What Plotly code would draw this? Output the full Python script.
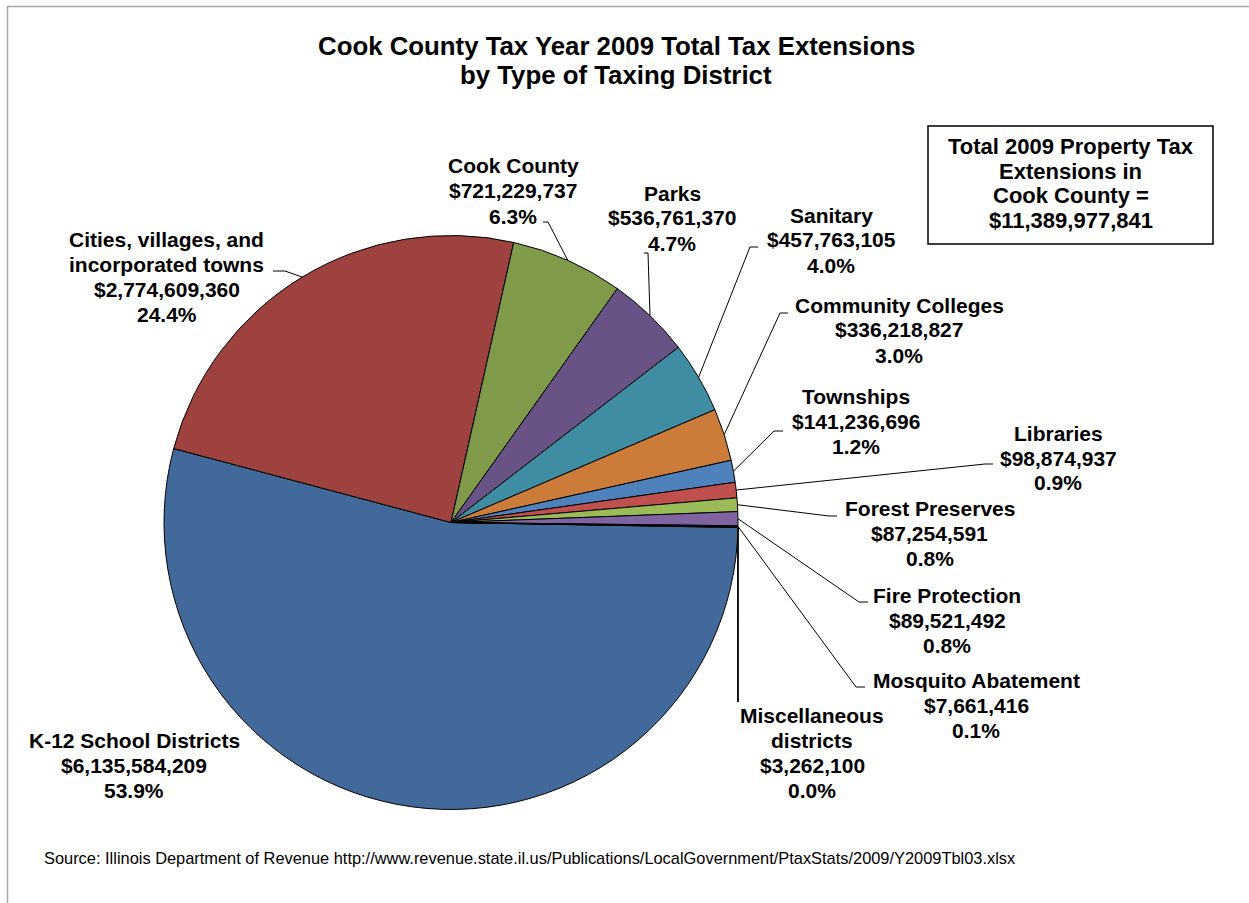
import math
import plotly.graph_objects as go

# ---- data -------------------------------------------------------------
districts = [
    "K-12 School Districts",
    "Cities, villages, and incorporated towns",
    "Cook County",
    "Parks",
    "Sanitary",
    "Community Colleges",
    "Townships",
    "Libraries",
    "Forest Preserves",
    "Fire Protection",
    "Mosquito Abatement",
    "Miscellaneous districts",
]
district_label_lines = [
    ["K-12 School Districts"],
    ["Cities, villages, and", "incorporated towns"],
    ["Cook County"],
    ["Parks"],
    ["Sanitary"],
    ["Community Colleges"],
    ["Townships"],
    ["Libraries"],
    ["Forest Preserves"],
    ["Fire Protection"],
    ["Mosquito Abatement"],
    ["Miscellaneous", "districts"],
]
extensions = [
    6135584209, 2774609360, 721229737, 536761370, 457763105, 336218827,
    141236696, 98874937, 87254591, 89521492, 7661416, 3262100,
]
total_extensions = 11389977841

title_lines = ["Cook County Tax Year 2009 Total Tax Extensions", "by Type of Taxing District"]
total_box_lines = ["Total 2009 Property Tax", "Extensions in", "Cook County ="]
source_note = ("Source: Illinois Department of Revenue "
               "http://www.revenue.state.il.us/Publications/LocalGovernment/PtaxStats/2009/Y2009Tbl03.xlsx")

# ---- styling / layout ---------------------------------------------------
W, H = 1249, 903
CX, CY, R = 451, 522.5, 287          # pie centre and radius (px)
START_ANGLE = 91                      # first slice start, degrees clockwise from 12 o'clock
LINE = 25                             # label line spacing (px)
FONT = "Liberation Sans, Arial, sans-serif"

slice_colors = [
    "#416A9B", "#9E423F", "#7F9A49", "#695285", "#3E8DA3", "#CB7B3A",
    "#4F81BD", "#C0504D", "#9BBB59", "#8064A2", "#4BACC6", "#F79646",
]

# label block centre (px), leader line: (text-side point, elbow point) or None, leader width
label_layout = {
    "K-12 School Districts": ((134, 765), None, 1),
    "Cities, villages, and incorporated towns": ((167, 276.5), ((273, 271), (285, 271)), 1),
    "Cook County": ((513, 191), ((543, 222), (548, 222)), 1),
    "Parks": ((672, 218), ((644, 253), (648, 253)), 1),
    "Sanitary": ((831, 240), ((758, 247), (750, 247)), 1),
    "Community Colleges": ((899, 330), ((788, 313), (780, 313)), 1),
    "Townships": ((856, 421), ((783, 431), (774, 431)), 1),
    "Libraries": ((1058, 458), ((993, 464), (985, 464)), 1),
    "Forest Preserves": ((930, 533), ((837, 516), (829, 516)), 1),
    "Fire Protection": ((947, 620), ((868, 602), (859, 602)), 1),
    "Mosquito Abatement": ((976, 705), ((865, 687), (856, 687)), 1),
    "Miscellaneous districts": ((812, 752.5), ((738, 702), (738, 702)), 1.8),
}


def px(x):
    return x / W


def py(y):
    return 1 - y / H


fig = go.Figure()
fig.add_trace(go.Pie(
    labels=districts,
    values=extensions,
    sort=False,
    direction="clockwise",
    rotation=START_ANGLE,
    marker=dict(colors=slice_colors, line=dict(color="black", width=1)),
    textinfo="none",
    hoverinfo="label+value+percent",
    showlegend=False,
    domain=dict(x=[px(CX - R), px(CX + R)], y=[py(CY + R), py(CY - R)]),
))

annotations = []
shapes = []

# data labels and leader lines
vsum = sum(extensions)
cum = 0
for name, lines, v in zip(districts, district_label_lines, extensions):
    mid = START_ANGLE + (cum + v / 2) / vsum * 360
    cum += v
    (lx, ly), leader, lw = label_layout[name]
    text_lines = lines + [f"${v:,}", f"{v / vsum * 100:.1f}%"]
    n = len(text_lines)
    for i, t in enumerate(text_lines):
        annotations.append(dict(
            x=px(lx), y=py(ly + (i - (n - 1) / 2) * LINE), xref="paper", yref="paper",
            text=f"<b>{t}</b>", showarrow=False, xanchor="center", yanchor="middle",
            font=dict(family=FONT, size=21, color="black"),
        ))
    if leader:
        a = math.radians(mid)
        ex, ey = CX + R * math.sin(a), CY - R * math.cos(a)
        (tx, ty), (bx, by) = leader
        shapes.append(dict(
            type="path", xref="paper", yref="paper",
            path=f"M {px(tx)},{py(ty)} L {px(bx)},{py(by)} L {px(ex)},{py(ey)}",
            line=dict(color="black", width=lw),
        ))

# title
for i, t in enumerate(title_lines):
    annotations.append(dict(
        x=px(616), y=py(46 + i * 29), xref="paper", yref="paper",
        text=f"<b>{t}</b>", showarrow=False, xanchor="center", yanchor="middle",
        font=dict(family=FONT, size=25.8, color="black"),
    ))

# total box
box_lines = total_box_lines + [f"${total_extensions:,}"]
for i, t in enumerate(box_lines):
    annotations.append(dict(
        x=px(1070.5), y=py(146.5 + i * 24.7), xref="paper", yref="paper",
        text=f"<b>{t}</b>", showarrow=False, xanchor="center", yanchor="middle",
        font=dict(family=FONT, size=22, color="black"),
    ))
shapes.append(dict(type="rect", xref="paper", yref="paper",
                   x0=px(928), x1=px(1213), y0=py(244), y1=py(126),
                   line=dict(color="black", width=1.5)))

# source note
annotations.append(dict(
    x=px(42), y=py(858), xref="paper", yref="paper",
    text=source_note, showarrow=False, xanchor="left", yanchor="middle",
    font=dict(family=FONT, size=16.4, color="black"),
))

# chart-area frame
shapes.append(dict(type="line", xref="paper", yref="paper",
                   x0=px(7), x1=1, y0=py(6.5), y1=py(6.5),
                   line=dict(color="#A6A6A6", width=1.5)))
shapes.append(dict(type="line", xref="paper", yref="paper",
                   x0=px(7.5), x1=px(7.5), y0=py(6), y1=0,
                   line=dict(color="#A6A6A6", width=1.5)))

fig.update_layout(
    width=W, height=H,
    margin=dict(l=0, r=0, t=0, b=0),
    paper_bgcolor="white", plot_bgcolor="white",
    annotations=annotations, shapes=shapes,
)

fig.write_html("out.html")
